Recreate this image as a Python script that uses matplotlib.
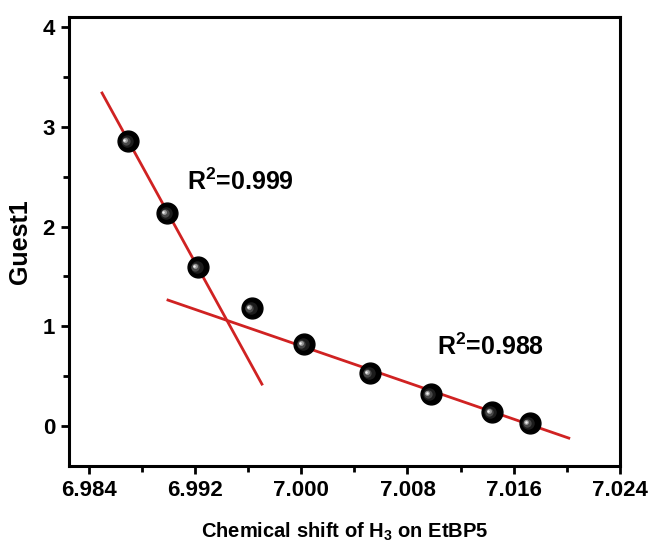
import matplotlib.pyplot as plt
import matplotlib.transforms as mtransforms
from matplotlib.ticker import MultipleLocator, FormatStrFormatter

plt.rcParams['font.family'] = ['Liberation Sans', 'DejaVu Sans']
plt.rcParams['font.weight'] = 'bold'
plt.rcParams['mathtext.fontset'] = 'custom'
plt.rcParams['mathtext.rm'] = 'Liberation Sans:bold'
plt.rcParams['mathtext.default'] = 'rm'

# data
shift = [6.98694, 6.98988, 6.99221, 6.99628, 7.00020, 7.00517, 7.00976, 7.01436, 7.01722]
guest = [2.857, 2.135, 1.594, 1.183, 0.822, 0.531, 0.321, 0.140, 0.030]

# the two fitted lines (end points)
fit1_x = [6.98498, 6.99703]
fit1_y = [3.338, 0.421]
fit2_x = [6.98995, 7.02016]
fit2_y = [1.263, -0.120]

r2_labels = ['R$^2$=0.999', 'R$^2$=0.988']
r2_pos = [(6.99137, 2.45), (7.01024, 0.79)]

fig = plt.figure(figsize=(6.51, 5.47), dpi=100)
ax = fig.add_axes([0.106, 0.148, 0.846, 0.821])

red = '#d02222'
ax.plot(fit1_x, fit1_y, color=red, lw=2.0, zorder=2)
ax.plot(fit2_x, fit2_y, color=red, lw=2.0, zorder=2)

# glossy black balls
ax.plot(shift, guest, 'o', ms=15, color='black', mec='black', zorder=3)
shades = [(9, '#1c1c1c', -1.0), (6, '#484848', -1.8), (3.5, '#9a9a9a', -2.4), (1.8, '#f0f0f0', -2.6)]
for ms, col, off in shades:
    tr = mtransforms.offset_copy(ax.transData, fig=fig, x=off, y=-off * 0.2, units='points')
    ax.plot(shift, guest, 'o', ms=ms, color=col, mew=0, transform=tr, zorder=4)

for lab, (tx, ty) in zip(r2_labels, r2_pos):
    ax.text(tx, ty, lab, fontsize=18, fontweight='bold', ha='left', va='center')

ax.set_xlim(6.98249, 7.024)
ax.set_ylim(-0.40, 4.10)
ax.xaxis.set_major_locator(MultipleLocator(0.008))
ax.xaxis.set_minor_locator(MultipleLocator(0.004))
ax.xaxis.set_major_formatter(FormatStrFormatter('%.3f'))
ax.yaxis.set_major_locator(MultipleLocator(1))
ax.yaxis.set_minor_locator(MultipleLocator(0.5))

for sp in ax.spines.values():
    sp.set_linewidth(2.2)
ax.tick_params(which='major', direction='out', length=6, width=2, labelsize=16, pad=4)
ax.tick_params(which='minor', direction='out', length=4, width=2)

ax.set_xlabel('Chemical shift of H$_3$ on EtBP5', fontsize=14.5, fontweight='bold', labelpad=14)
ax.set_ylabel('Guest1', fontsize=18, fontweight='bold', labelpad=8)

fig.savefig('out.png', dpi=100)
